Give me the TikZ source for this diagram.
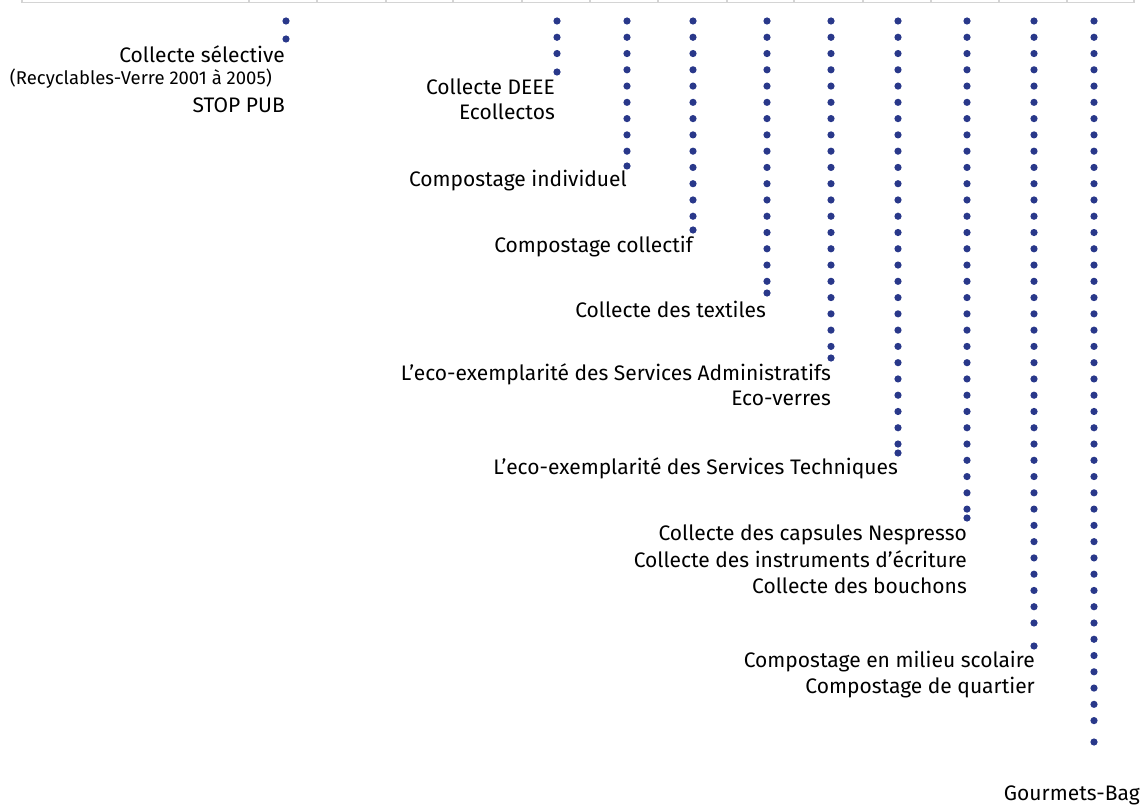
\documentclass[tikz,border=0pt]{standalone}
\usepackage{fontspec}
\setmainfont{Fira Sans}
\definecolor{dotblue}{RGB}{41,56,138}
\definecolor{rulegray}{RGB}{212,212,212}
\tikzset{
  lbl/.style={anchor=base east, inner sep=0pt, font=\fontsize{21}{25}\selectfont, text=black},
  smalllbl/.style={anchor=base east, inner sep=0pt, font=\fontsize{18.5}{22}\selectfont, text=black},
  rulel/.style={draw=rulegray, line width=1.5pt},
}
\newcommand{\dotcol}[3]{%
  \foreach \k in {1,...,#2}{\fill[dotblue] (#1,{21+(\k-1)*16.27}) circle (3.6);}
  \fill[dotblue] (#1,#3) circle (3.6);
}
\begin{document}
\begin{tikzpicture}[x=1pt,y=-1pt]
\useasboundingbox (0,0) rectangle (1143,805);
% top rule of table
\draw[rulel] (22,-2) -- (22,2.5) -- (1134,2.5) -- (1134,-2);
\foreach \t in {249,317,386,453,522,590,658,727,794,863,931,999,1067}{\draw[rulel] (\t,-2) -- (\t,2.5);}
% dot columns
\dotcol{286}{1}{39}
\dotcol{557}{3}{72}
\dotcol{627}{9}{166}
\dotcol{693}{13}{230}
\dotcol{767}{17}{293}
\dotcol{831}{21}{358}
\dotcol{898}{27}{453}
\dotcol{967}{31}{518}
\dotcol{1034}{38}{646}
\dotcol{1094}{44}{742}
% labels
\node[lbl] (t1) at (285,63) {Collecte sélective};
\node[smalllbl] (t2) at (272,85) {(Recyclables-Verre 2001 à 2005)};
\node[lbl] (t3) at (285,113) {STOP PUB};
\node[lbl] (t4) at (555,95) {Collecte DEEE};
\node[lbl] (t5) at (555,120) {Ecollectos};
\node[lbl] (t6) at (627,187) {Compostage individuel};
\node[lbl] (t7) at (693,252) {Compostage collectif};
\node[lbl] (t8) at (766,317) {Collecte des textiles};
\node[lbl] (t9) at (831,380) {L’eco-exemplarité des Services Administratifs};
\node[lbl] (t10) at (831,405) {Eco-verres};
\node[lbl] (t11) at (898,474) {L’eco-exemplarité des Services Techniques};
\node[lbl] (t12) at (967,540) {Collecte des capsules Nespresso};
\node[lbl] (t13) at (967,567) {Collecte des instruments d’écriture};
\node[lbl] (t14) at (967,593) {Collecte des bouchons};
\node[lbl] (t15) at (1035,667) {Compostage en milieu scolaire};
\node[lbl] (t16) at (1035,693) {Compostage de quartier};
\node[lbl] (t17) at (1140,800) {Gourmets-Bag};
\end{tikzpicture}
\end{document}
